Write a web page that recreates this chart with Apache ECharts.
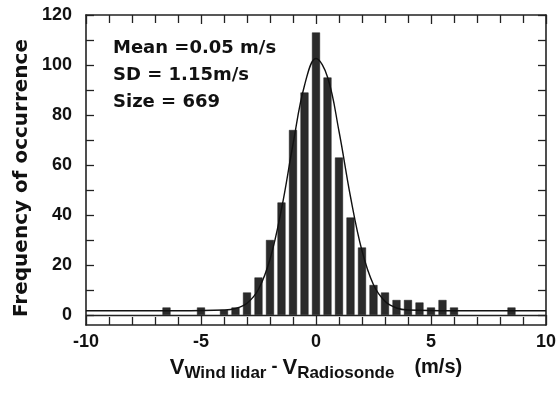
<!DOCTYPE html>
<html>
<head>
<meta charset="utf-8">
<script src="https://cdn.jsdelivr.net/npm/echarts@6/dist/echarts.min.js"></script>
<style>
  html, body { margin: 0; padding: 0; background: #fff; }
  #chart { width: 559px; height: 395px; }
</style>
</head>
<body>
<div id="chart"></div>
<script>
'use strict';

/* ── Histogram bins (m/s) and counts ── */
const binCenters = [-6.5, -5, -4, -3.5, -3, -2.5, -2, -1.5, -1, -0.5, 0, 0.5, 1, 1.5, 2, 2.5, 3, 3.5, 4, 4.5, 5, 5.5, 6, 8.5];
const counts     = [3, 3, 2, 3, 9, 15, 30, 45, 74, 89, 113, 95, 63, 39, 27, 12, 9, 6, 6, 5, 3, 6, 3, 3];

/* ── Fitted curve ── */
const fitX = [-10, -6, -4, -3.5, -3, -2.5, -2, -1.5, -1, -0.5, 0, 0.5, 1, 1.5, 2, 2.5, 3, 3.5, 4, 6, 10];
const fitY = [1.7, 1.7, 2.0, 2.6, 4.7, 10.3, 22.3, 42.4, 68.3, 91.8, 102.6, 95.2, 73.5, 47.3, 25.7, 12.1, 5.5, 2.8, 2.0, 1.7, 1.7];

/* ── Axis ticks ── */
const yLabelVals = [0, 20, 40, 60, 80, 100, 120];
const yTickVals  = [0, 10, 20, 30, 40, 50, 60, 70, 80, 90, 100, 110, 120];

const statsLines = ['Mean =0.05 m/s', 'SD = 1.15m/s', 'Size = 669'];
const yTitle = 'Frequency of occurrence';

const FONT = "'Liberation Sans', Arial, sans-serif";
const INK = '#222';

const chart = echarts.init(document.getElementById('chart'), null, { renderer: 'canvas' });

const axisLine = { show: true, onZero: false, lineStyle: { color: INK, width: 1.6 } };
const tickStyle = { color: INK, width: 1.3 };
const txt = (size, extra) => Object.assign({ fontSize: size, fontWeight: 'bold', fontFamily: FONT, color: '#111' }, extra || {});

chart.setOption({
  backgroundColor: '#fff',
  animation: false,
  grid: { left: 86, right: 13, top: 15, bottom: 70 },
  xAxis: [
    {
      type: 'value', min: -10, max: 10, interval: 5,
      axisLine,
      axisTick: { inside: true, length: 10, lineStyle: tickStyle },
      minorTick: { show: true, splitNumber: 5, length: 8, lineStyle: tickStyle },
      splitLine: { show: false },
      axisLabel: { margin: 8, color: '#111', fontSize: 18, fontWeight: 'bold', fontFamily: FONT },
      name: '{v|V}{s|Wind lidar}{d| - }{v|V}{s|Radiosonde}{d|    }{u|(m/s)}',
      nameLocation: 'middle',
      nameGap: 28,
      nameTextStyle: {
        fontFamily: FONT, fontWeight: 'bold', color: '#111',
        rich: {
          v: txt(22),
          s: txt(17, { padding: [12, 0, 0, 0] }),
          d: txt(18),
          u: txt(20)
        }
      }
    },
    {
      type: 'value', min: -10, max: 10, interval: 5, position: 'top',
      axisLine,
      axisTick: { inside: true, length: 9, lineStyle: tickStyle },
      minorTick: { show: true, splitNumber: 5, length: 8, lineStyle: tickStyle },
      splitLine: { show: false },
      axisLabel: { show: false }
    }
  ],
  yAxis: [
    {
      type: 'value', min: -4, max: 120,
      axisLine,
      axisTick: { show: true, inside: true, length: 8, lineStyle: tickStyle, customValues: yTickVals },
      splitLine: { show: false },
      axisLabel: { margin: 14, color: '#111', fontSize: 18, fontWeight: 'bold', fontFamily: FONT, customValues: yLabelVals }
    },
    {
      type: 'value', min: -4, max: 120, position: 'right',
      axisLine,
      axisTick: { show: true, inside: true, length: 8, lineStyle: tickStyle, customValues: yTickVals },
      splitLine: { show: false },
      axisLabel: { show: false }
    }
  ],
  graphic: [
    {
      type: 'text',
      left: 113, top: 35,
      style: {
        text: statsLines.join('\n'),
        font: "bold 18px 'DejaVu Sans', sans-serif",
        lineHeight: 27,
        fill: '#111'
      }
    },
    {
      type: 'text',
      x: 22, y: 178,
      rotation: Math.PI / 2,
      style: {
        text: yTitle,
        font: "bold 20px 'DejaVu Sans', sans-serif",
        align: 'center',
        verticalAlign: 'middle',
        fill: '#111'
      }
    }
  ],
  series: [
    {
      name: 'count',
      type: 'bar',
      xAxisIndex: 0, yAxisIndex: 0,
      data: binCenters.map((x, i) => [x, counts[i]]),
      barWidth: 8,
      itemStyle: { color: '#2b2b2b', borderColor: '#1a1a1a', borderWidth: 0.5 },
      markLine: {
        silent: true, symbol: 'none', label: { show: false },
        lineStyle: { color: INK, width: 1.3, type: 'solid' },
        data: [{ yAxis: 0 }]
      }
    },
    {
      name: 'fit',
      type: 'line',
      xAxisIndex: 0, yAxisIndex: 0,
      data: fitX.map((x, i) => [x, fitY[i]]),
      smooth: 0.4,
      showSymbol: false,
      lineStyle: { color: '#111', width: 1.4 },
      z: 5
    }
  ]
});
</script>
</body>
</html>
